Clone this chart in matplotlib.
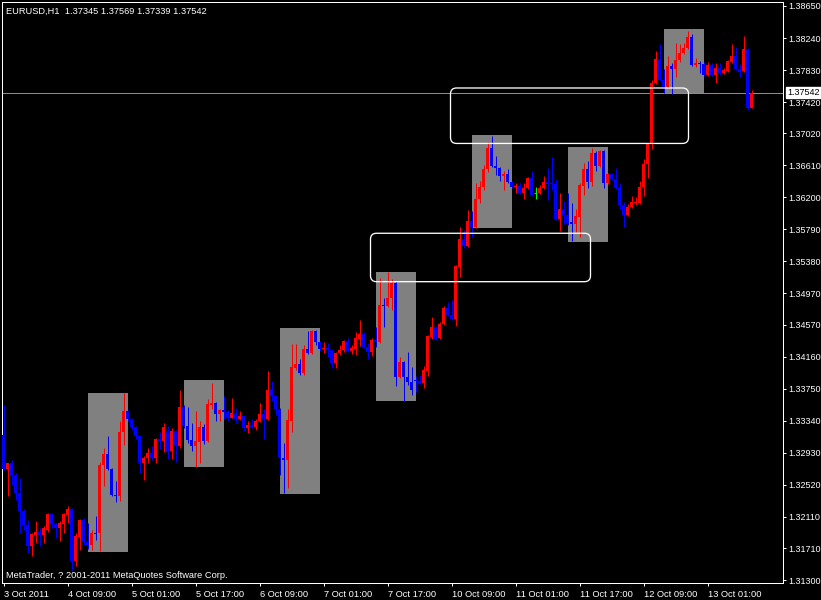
import matplotlib.pyplot as plt
from matplotlib.patches import Rectangle, FancyBboxPatch

# --- EURUSD H1 candles, one per hour (bar index on the x axis) ---
opens = [
    1.3316, 1.3272, 1.3280, 1.3265, 1.3242, 1.3219, 1.3201, 1.3173, 1.3188, 1.3192,
    1.3188, 1.3194, 1.3215, 1.3202, 1.3196, 1.3202, 1.3213, 1.3221, 1.3155, 1.3185,
    1.3207, 1.3179, 1.3175, 1.3190, 1.3190, 1.3277, 1.3292, 1.3272, 1.3239, 1.3237,
    1.3320, 1.3347, 1.3336, 1.3326, 1.3315, 1.3280, 1.3286, 1.3293, 1.3286, 1.3311,
    1.3308, 1.3321, 1.3295, 1.3321, 1.3301, 1.3352, 1.3327, 1.3309, 1.3302, 1.3307,
    1.3326, 1.3308, 1.3354, 1.3357, 1.3343, 1.3348, 1.3345, 1.3338, 1.3344, 1.3336,
    1.3340, 1.3325, 1.3329, 1.3326, 1.3333, 1.3343, 1.3336, 1.3373, 1.3366, 1.3349,
    1.3286, 1.3284, 1.3334, 1.3402, 1.3407, 1.3395, 1.3426, 1.3421, 1.3449, 1.3435,
    1.3426, 1.3427, 1.3425, 1.3408, 1.3421, 1.3425, 1.3436, 1.3423, 1.3426, 1.3439,
    1.3445, 1.3429, 1.3422, 1.3437, 1.3435, 1.3482, 1.3481, 1.3491, 1.3510, 1.3390,
    1.3409, 1.3390, 1.3384, 1.3386, 1.3385, 1.3382, 1.3398, 1.3441, 1.3454, 1.3440,
    1.3458, 1.3478, 1.3469, 1.3464, 1.3531, 1.3567, 1.3558, 1.3590, 1.3582, 1.3618,
    1.3633, 1.3656, 1.3683, 1.3660, 1.3658, 1.3647, 1.3650, 1.3640, 1.3633, 1.3635,
    1.3626, 1.3632, 1.3645, 1.3626, 1.3626, 1.3632, 1.3640, 1.3638, 1.3637, 1.3592,
    1.3605, 1.3597, 1.3589, 1.3586, 1.3595, 1.3635, 1.3656, 1.3640, 1.3677, 1.3660,
    1.3679, 1.3638, 1.3650, 1.3644, 1.3632, 1.3610, 1.3597, 1.3608, 1.3613, 1.3613,
    1.3633, 1.3663, 1.3688, 1.3766, 1.3797, 1.3770, 1.3761, 1.3788, 1.3784, 1.3796,
    1.3805, 1.3811, 1.3825, 1.3789, 1.3792, 1.3791, 1.3777, 1.3789, 1.3777, 1.3786,
    1.3779, 1.3782, 1.3793, 1.3801, 1.3784, 1.3782, 1.3810, 1.37345,
]
highs = [
    1.3354, 1.3280, 1.3284, 1.3267, 1.3260, 1.3221, 1.3207, 1.3190, 1.3205, 1.3197,
    1.3199, 1.3216, 1.3216, 1.3203, 1.3205, 1.3216, 1.3225, 1.3222, 1.3190, 1.3208,
    1.3210, 1.3203, 1.3194, 1.3212, 1.3281, 1.3299, 1.3315, 1.3274, 1.3257, 1.3333,
    1.3370, 1.3348, 1.3338, 1.3327, 1.3316, 1.3289, 1.3299, 1.3301, 1.3312, 1.3320,
    1.3331, 1.3327, 1.3325, 1.3322, 1.3373, 1.3354, 1.3352, 1.3331, 1.3347, 1.3333,
    1.3330, 1.3362, 1.3382, 1.3358, 1.3349, 1.3365, 1.3348, 1.3363, 1.3350, 1.3347,
    1.3341, 1.3334, 1.3336, 1.3336, 1.3357, 1.3349, 1.3398, 1.3385, 1.3367, 1.3350,
    1.3306, 1.3349, 1.3432, 1.3432, 1.3413, 1.3431, 1.3449, 1.3450, 1.3450, 1.3436,
    1.3435, 1.3434, 1.3426, 1.3422, 1.3431, 1.3437, 1.3440, 1.3431, 1.3448, 1.3463,
    1.3448, 1.3434, 1.3440, 1.3454, 1.3517, 1.3491, 1.3525, 1.3516, 1.3513, 1.3416,
    1.3411, 1.3422, 1.3403, 1.3391, 1.3393, 1.3404, 1.3444, 1.3467, 1.3455, 1.3461,
    1.3481, 1.3486, 1.3489, 1.3533, 1.3582, 1.3578, 1.3604, 1.3603, 1.3638, 1.3641,
    1.3661, 1.3691, 1.3699, 1.3673, 1.3659, 1.3654, 1.3656, 1.3641, 1.3638, 1.3638,
    1.3638, 1.3646, 1.3654, 1.3633, 1.3636, 1.3647, 1.3658, 1.3672, 1.3644, 1.3626,
    1.3615, 1.3626, 1.3613, 1.3605, 1.3638, 1.3664, 1.3667, 1.3683, 1.3679, 1.3681,
    1.3681, 1.3651, 1.3651, 1.3658, 1.3638, 1.3614, 1.3612, 1.3622, 1.3621, 1.3641,
    1.3669, 1.3690, 1.3770, 1.3807, 1.3816, 1.3784, 1.3801, 1.3792, 1.3818, 1.3816,
    1.3818, 1.3833, 1.3829, 1.3798, 1.3795, 1.3793, 1.3793, 1.3792, 1.3792, 1.3792,
    1.3786, 1.3796, 1.3816, 1.3813, 1.3791, 1.3827, 1.3811, 1.37569,
]
lows = [
    1.3271, 1.3237, 1.3252, 1.3233, 1.3190, 1.3194, 1.3165, 1.3161, 1.3178, 1.3173,
    1.3178, 1.3192, 1.3196, 1.3184, 1.3180, 1.3190, 1.3203, 1.3143, 1.3148, 1.3169,
    1.3175, 1.3170, 1.3169, 1.3181, 1.3167, 1.3251, 1.3271, 1.3237, 1.3230, 1.3231,
    1.3303, 1.3334, 1.3322, 1.3311, 1.3267, 1.3258, 1.3280, 1.3284, 1.3280, 1.3298,
    1.3294, 1.3285, 1.3285, 1.3281, 1.3299, 1.3325, 1.3306, 1.3295, 1.3275, 1.3280,
    1.3304, 1.3307, 1.3349, 1.3334, 1.3334, 1.3336, 1.3334, 1.3337, 1.3331, 1.3335,
    1.3321, 1.3318, 1.3325, 1.3322, 1.3332, 1.3311, 1.3335, 1.3359, 1.3341, 1.3265,
    1.3242, 1.3248, 1.3320, 1.3399, 1.3393, 1.3393, 1.3420, 1.3420, 1.3431, 1.3423,
    1.3421, 1.3416, 1.3402, 1.3402, 1.3418, 1.3422, 1.3422, 1.3420, 1.3418, 1.3430,
    1.3427, 1.3413, 1.3417, 1.3429, 1.3434, 1.3454, 1.3480, 1.3476, 1.3379, 1.3389,
    1.3359, 1.3380, 1.3367, 1.3371, 1.3381, 1.3376, 1.3391, 1.3439, 1.3437, 1.3438,
    1.3457, 1.3468, 1.3463, 1.3455, 1.3518, 1.3555, 1.3557, 1.3569, 1.3581, 1.3613,
    1.3629, 1.3653, 1.3659, 1.3649, 1.3641, 1.3629, 1.3638, 1.3632, 1.3626, 1.3624,
    1.3618, 1.3631, 1.3622, 1.3618, 1.3624, 1.3631, 1.3617, 1.3629, 1.3591, 1.3577,
    1.3586, 1.3585, 1.3564, 1.3576, 1.3569, 1.3623, 1.3632, 1.3635, 1.3654, 1.3659,
    1.3632, 1.3637, 1.3642, 1.3631, 1.3605, 1.3582, 1.3596, 1.3606, 1.3610, 1.3612,
    1.3622, 1.3645, 1.3682, 1.3765, 1.3769, 1.3754, 1.3760, 1.3752, 1.3774, 1.3793,
    1.3804, 1.3810, 1.3788, 1.3787, 1.3779, 1.3775, 1.3775, 1.3775, 1.3766, 1.3776,
    1.3778, 1.3781, 1.3792, 1.3783, 1.3774, 1.3781, 1.3732, 1.37339,
]
closes = [
    1.3272, 1.3280, 1.3265, 1.3242, 1.3219, 1.3201, 1.3173, 1.3189, 1.3192, 1.3188,
    1.3196, 1.3215, 1.3202, 1.3196, 1.3203, 1.3215, 1.3221, 1.3155, 1.3187, 1.3207,
    1.3179, 1.3175, 1.3190, 1.3189, 1.3277, 1.3292, 1.3272, 1.3239, 1.3237, 1.3320,
    1.3347, 1.3336, 1.3326, 1.3315, 1.3280, 1.3286, 1.3293, 1.3286, 1.3311, 1.3308,
    1.3326, 1.3294, 1.3321, 1.3301, 1.3352, 1.3327, 1.3309, 1.3302, 1.3308, 1.3326,
    1.3308, 1.3356, 1.3357, 1.3343, 1.3348, 1.3345, 1.3338, 1.3344, 1.3336, 1.3340,
    1.3325, 1.3329, 1.3326, 1.3334, 1.3343, 1.3336, 1.3373, 1.3366, 1.3349, 1.3286,
    1.3284, 1.3335, 1.3403, 1.3407, 1.3395, 1.3426, 1.3421, 1.3449, 1.3435, 1.3426,
    1.3427, 1.3425, 1.3408, 1.3421, 1.3425, 1.3436, 1.3423, 1.3427, 1.3440, 1.3445,
    1.3429, 1.3422, 1.3437, 1.3435, 1.3482, 1.3481, 1.3491, 1.3510, 1.3390, 1.3409,
    1.3390, 1.3384, 1.3373, 1.3385, 1.3382, 1.3399, 1.3443, 1.3454, 1.3439, 1.3458,
    1.3478, 1.3469, 1.3464, 1.3532, 1.3567, 1.3558, 1.3590, 1.3582, 1.3618, 1.3633,
    1.3656, 1.3683, 1.3660, 1.3658, 1.3647, 1.3650, 1.3640, 1.3633, 1.3635, 1.3626,
    1.3632, 1.3645, 1.3623, 1.3626, 1.3632, 1.3640, 1.3637, 1.3637, 1.3592, 1.3605,
    1.3597, 1.3587, 1.3586, 1.3596, 1.3636, 1.3656, 1.3640, 1.3677, 1.3660, 1.3679,
    1.3638, 1.3650, 1.3644, 1.3632, 1.3610, 1.3597, 1.3608, 1.3614, 1.3614, 1.3633,
    1.3663, 1.3688, 1.3766, 1.3797, 1.3770, 1.3761, 1.3788, 1.3784, 1.3796, 1.3805,
    1.3811, 1.3825, 1.3789, 1.3792, 1.3791, 1.3777, 1.3789, 1.3777, 1.3786, 1.3779,
    1.3783, 1.3795, 1.3801, 1.3784, 1.3781, 1.3810, 1.3734, 1.37542,
]

# time axis labels (every 16 bars)
time_ticks = [0, 16, 32, 48, 64, 80, 96, 112, 128, 144, 160, 176]
time_labels = ['3 Oct 2011', '4 Oct 09:00', '5 Oct 01:00', '5 Oct 17:00',
               '6 Oct 09:00', '7 Oct 01:00', '7 Oct 17:00', '10 Oct 09:00',
               '11 Oct 01:00', '11 Oct 17:00', '12 Oct 09:00', '13 Oct 01:00']

price_ticks = [1.38650, 1.38240, 1.37830, 1.37420, 1.37020, 1.36610, 1.36200,
               1.35790, 1.35380, 1.34970, 1.34570, 1.34160, 1.33750, 1.33340,
               1.32930, 1.32520, 1.32110, 1.31710, 1.31300]

last_price = 1.37542

# grey range boxes (bar from / to, price high / low)
zone_from = [21, 45, 69, 93, 117, 141, 165]
zone_to = [31, 55, 79, 103, 127, 151, 175]
zone_high = [1.3370, 1.3386, 1.3453, 1.3525, 1.3700, 1.3685, 1.3836]
zone_low = [1.3166, 1.3275, 1.3240, 1.3359, 1.3581, 1.3563, 1.3752]

# white outlined boxes
box_from = [91.75, 111.75]
box_to = [146.75, 171.25]
box_high = [1.3574, 1.3760]
box_low = [1.3512, 1.3689]

plt.rcParams['font.family'] = ['Liberation Sans', 'DejaVu Sans']
FS = 6.7
PX = 0.72  # one pixel in points at dpi 100
PRICE_PX = 0.000128  # one pixel of price on this scale

fig = plt.figure(figsize=(8.21, 6.0), dpi=100, facecolor='black')
ax = fig.add_axes([2 / 821, 17 / 600, 781 / 821, 581 / 600], facecolor='black')

# shaded zones (background)
for x0, x1, hi, lo in zip(zone_from, zone_to, zone_high, zone_low):
    ax.add_patch(Rectangle((x0, lo), x1 - x0, hi - lo, facecolor='#808080',
                           edgecolor='none', zorder=1))

# current price line
ax.axhline(last_price, color='#8090a0', lw=PX, zorder=2)

# candles: 4px per bar, 3px bodies, 1px wicks (x limits put bar centres
# in the middle of a pixel column so nothing gets smeared)
for i, (o, h, l, c) in enumerate(zip(opens, highs, lows, closes)):
    if c > o:
        col = '#ff0000'
    elif c < o:
        col = '#0000ff'
    else:
        col = '#00ff00'
    ax.vlines(i, l, h, colors=col, lw=PX, zorder=3)
    if c == o:
        ax.hlines(o, i - 0.375, i + 0.375, colors=col, lw=PX, zorder=4)
    else:
        body = max(abs(c - o), PRICE_PX)
        ax.bar(i, body, bottom=min(o, c), width=0.75, color=col,
               lw=0, zorder=4)

# rounded white boxes (aspect fixed so corners look round in pixels)
aspect = PRICE_PX / 0.25
for x0, x1, hi, lo in zip(box_from, box_to, box_high, box_low):
    ax.add_patch(FancyBboxPatch((x0, lo), x1 - x0, hi - lo,
                                boxstyle='round,pad=0,rounding_size=1.5',
                                mutation_aspect=aspect, facecolor='none',
                                edgecolor='white', lw=PX * 1.3, zorder=5))

ax.set_xlim(-0.375, 194.875)
ax.set_ylim(1.31262, 1.38701)

for sp in ax.spines.values():
    sp.set_color('white')
    sp.set_linewidth(PX)

ax.yaxis.tick_right()
ax.set_yticks(price_ticks)
ax.set_yticklabels([f'{p:.5f}' for p in price_ticks])
ax.set_xticks(time_ticks)
ax.set_xticklabels(time_labels)
for lab in ax.get_xticklabels():
    lab.set_ha('left')
ax.tick_params(colors='white', labelsize=FS, length=2.2, width=PX,
               direction='out')
ax.tick_params(axis='y', labelsize=6.5, pad=1.6)
ax.tick_params(axis='x', pad=3)

# price label box on the axis
ax.annotate(f'{last_price:.5f}', xy=(1, last_price),
            xycoords=ax.get_yaxis_transform(), xytext=(3.0, 0),
            textcoords='offset points', ha='left', va='center',
            fontsize=6.5, color='black', annotation_clip=False,
            bbox=dict(boxstyle='square,pad=0.15', fc='white', ec='white'))

fig.text(6 / 821, 1 - 14 / 600,
         f'EURUSD,H1  {opens[-1]:.5f} {highs[-1]:.5f} {lows[-1]:.5f} {closes[-1]:.5f}',
         color='white', fontsize=FS, va='baseline', ha='left')
fig.text(6 / 821, 1 - 578 / 600,
         'MetaTrader, ? 2001-2011 MetaQuotes Software Corp.',
         color='white', fontsize=FS, va='baseline', ha='left')

fig.savefig('out.png', dpi=100, facecolor='black')
